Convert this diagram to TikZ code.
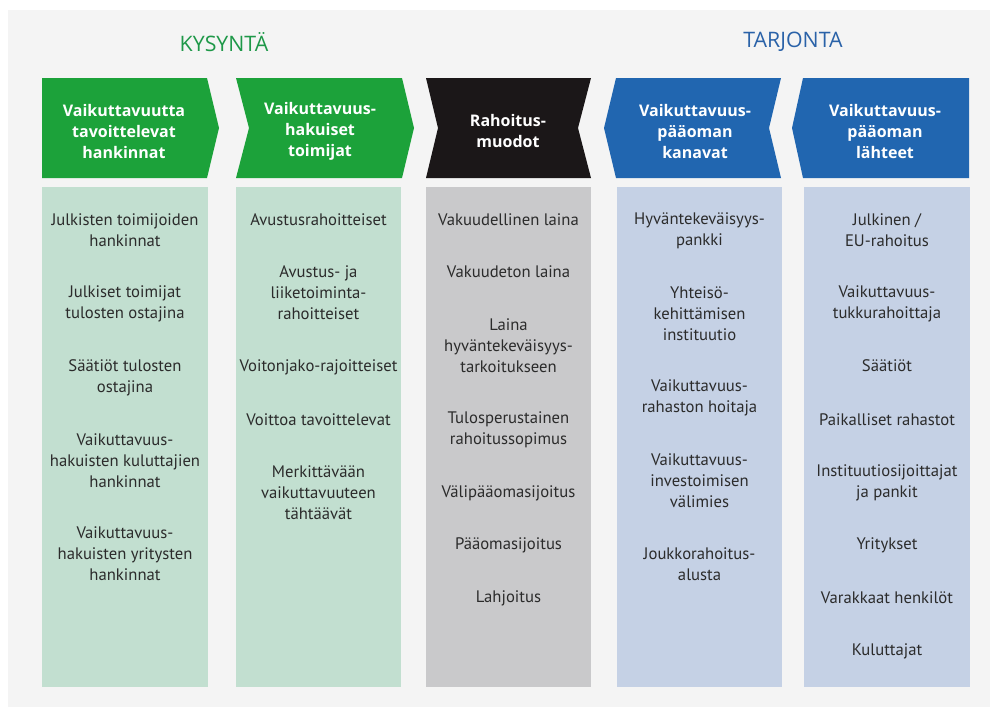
\documentclass[tikz,border=0pt]{standalone}
\usepackage{fontspec}
\setmainfont{PT Sans}
\newfontfamily\headfont{Open Sans}
\definecolor{pagegrey}{RGB}{244,244,244}
\definecolor{kygreen}{RGB}{28,162,58}
\definecolor{kytitle}{RGB}{30,152,72}
\definecolor{kypale}{RGB}{194,223,208}
\definecolor{rablack}{RGB}{27,23,24}
\definecolor{rapale}{RGB}{201,201,203}
\definecolor{tablue}{RGB}{33,102,176}
\definecolor{tatitle}{RGB}{42,98,168}
\definecolor{tapale}{RGB}{197,209,229}
\definecolor{itemtext}{RGB}{43,43,43}
\begin{document}
\begin{tikzpicture}[x=0.75pt, y=-0.75pt,
    title/.style={font=\headfont\fontsize{16}{19}\selectfont},
    headtext/.style={text=white, align=center, font=\headfont\bfseries\fontsize{12}{15.75}\selectfont},
    item/.style={text=itemtext, align=center, font=\fontsize{12.5}{15.75}\selectfont}]
    \useasboundingbox (0,0) rectangle (995,707);
    \fill[pagegrey] (8,10) rectangle (990,707);

    \node[title, text=kytitle] (kysynta) at (224,42) {KYSYNTÄ};
    \node[title, text=tatitle] (tarjonta) at (793,42) {TARJONTA};

    \fill[kygreen] (42,78) -- (207,78) -- (219,128) -- (207,178) -- (42,178) -- cycle;
    \fill[kygreen] (236,78) -- (402,78) -- (414,128) -- (402,178) -- (236,178) -- (249,128) -- cycle;
    \fill[rablack] (426,78) -- (591,78) -- (578,128) -- (591,178) -- (426,178) -- (438,128) -- cycle;
    \fill[tablue] (604,128) -- (616,78) -- (781,78) -- (769,128) -- (781,178) -- (616,178) -- cycle;
    \fill[tablue] (792,128) -- (803,78) -- (969,78) -- (969,178) -- (803,178) -- cycle;

    \node[headtext] (hankinnat) at (124,131) {Vaikuttavuutta\\tavoittelevat\\hankinnat};
    \node[headtext] (toimijat) at (320,131) {Vaikuttavuus-\\hakuiset\\toimijat};
    \node[headtext] (muodot) at (508,130.5) {Rahoitus-\\muodot};
    \node[headtext] (kanavat) at (695,131) {Vaikuttavuus-\\pääoman\\kanavat};
    \node[headtext] (lahteet) at (885,131) {Vaikuttavuus-\\pääoman\\lähteet};

    \fill[kypale] (42,187) rectangle (208,687);
    \fill[kypale] (236,187) rectangle (401,687);
    \fill[rapale] (426,187) rectangle (591,687);
    \fill[tapale] (617,187) rectangle (782,687);
    \fill[tapale] (804,187) rectangle (970,687);

    \node[item] (ky1) at (125,230.5) {Julkisten toimijoiden\\hankinnat};
    \node[item] (ky2) at (125,304) {Julkiset toimijat\\tulosten ostajina};
    \node[item] (ky3) at (125,377.5) {Säätiöt tulosten\\ostajina};
    \node[item] (ky4) at (125,461) {Vaikuttavuus-\\hakuisten kuluttajien\\hankinnat};
    \node[item] (ky5) at (125,554) {Vaikuttavuus-\\hakuisten yritysten\\hankinnat};

    \node[item] (to1) at (318.5,220) {Avustusrahoitteiset};
    \node[item] (to2) at (318.5,293) {Avustus- ja\\liiketoiminta-\\rahoitteiset};
    \node[item] (to3) at (318.5,367) {Voitonjako-rajoitteiset};
    \node[item] (to4) at (318.5,420) {Voittoa tavoittelevat};
    \node[item] (to5) at (318.5,493) {Merkittävään\\vaikuttavuuteen\\tähtäävät};

    \node[item] (ra1) at (508.5,220) {Vakuudellinen laina};
    \node[item] (ra2) at (508.5,272) {Vakuudeton laina};
    \node[item] (ra3) at (508.5,346) {Laina\\hyväntekeväisyys-\\tarkoitukseen};
    \node[item] (ra4) at (508.5,430) {Tulosperustainen\\rahoitussopimus};
    \node[item] (ra5) at (508.5,493) {Välipääomasijoitus};
    \node[item] (ra6) at (508.5,545) {Pääomasijoitus};
    \node[item] (ra7) at (508.5,598) {Lahjoitus};

    \node[item] (ka1) at (699.5,230.5) {Hyväntekeväisyys-\\pankki};
    \node[item] (ka2) at (699.5,314) {Yhteisö-\\kehittämisen\\instituutio};
    \node[item] (ka3) at (699.5,397.5) {Vaikuttavuus-\\rahaston hoitaja};
    \node[item] (ka4) at (699.5,481) {Vaikuttavuus-\\investoimisen\\välimies};
    \node[item] (ka5) at (699.5,564.5) {Joukkorahoitus-\\alusta};

    \node[item] (la1) at (887,230.5) {Julkinen /\\EU-rahoitus};
    \node[item] (la2) at (887,303.5) {Vaikuttavuus-\\tukkurahoittaja};
    \node[item] (la3) at (887,366) {Säätiöt};
    \node[item] (la4) at (887,420) {Paikalliset rahastot};
    \node[item] (la5) at (887,482.5) {Instituutiosijoittajat\\ja pankit};
    \node[item] (la6) at (887,545) {Yritykset};
    \node[item] (la7) at (887,598) {Varakkaat henkilöt};
    \node[item] (la8) at (887,651) {Kuluttajat};

\end{tikzpicture}
\end{document}
